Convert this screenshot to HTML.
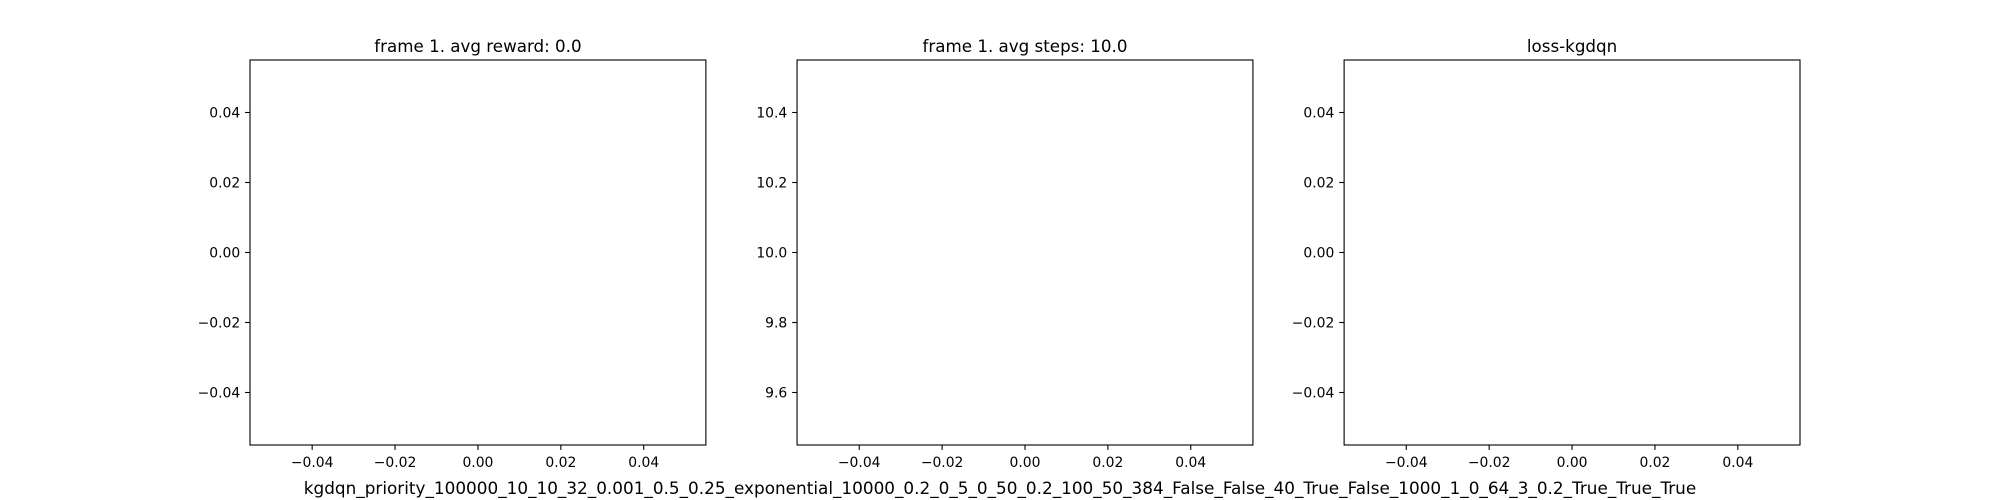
<!DOCTYPE html>
<html><head><meta charset="utf-8"><style>
html,body{margin:0;padding:0;background:#fff;}
svg{display:block;font-family:"DejaVu Sans","Liberation Sans",sans-serif;}
</style></head><body>
<svg id="fig" width="2000" height="500" viewBox="0 0 2000 500" xmlns="http://www.w3.org/2000/svg">
<rect width="2000" height="500" fill="#fff"/>
<text x="1000" y="494" text-anchor="middle" font-size="16.85" fill="#000">kgdqn_priority_100000_10_10_32_0.001_0.5_0.25_exponential_10000_0.2_0_5_0_50_0.2_100_50_384_False_False_40_True_False_1000_1_0_64_3_0.2_True_True_True</text>
</svg>
<script>
const panelTitles = ["frame 1. avg reward: 0.0", "frame 1. avg steps: 10.0", "loss-kgdqn"];
const panelNames = ["reward-panel", "steps-panel", "loss-panel"];
const yCenters = [0, 10, 0];
const yTicksRel = [-0.4, -0.2, 0.0, 0.2, 0.4];
const yTickLabels = [
  ["\u22120.04", "\u22120.02", "0.00", "0.02", "0.04"],
  ["9.6", "9.8", "10.0", "10.2", "10.4"],
  ["\u22120.04", "\u22120.02", "0.00", "0.02", "0.04"]
];
const yScaleFactor = [0.1, 1, 0.1];
const xTicks = [-0.04, -0.02, 0.0, 0.02, 0.04];
const xTickLabels = ["\u22120.04", "\u22120.02", "0.00", "0.02", "0.04"];

const svgEl = document.getElementById('fig');
const NS = 'http://www.w3.org/2000/svg';
const axW = 1550 / 3.4;
const axTop = 60, axBottom = 445;
function mk(tag, attrs, parent) {
  const e = document.createElementNS(NS, tag);
  for (const k in attrs) e.setAttribute(k, attrs[k]);
  parent.appendChild(e);
  return e;
}
for (let p = 0; p < 3; p++) {
  const left = 250 + p * axW * 1.2;
  const right = left + axW;
  const g = mk('g', {}, svgEl);
  
  
  const xScale = v => left + (v + 0.055) / 0.11 * axW;
  const half = 0.55 * yScaleFactor[p];
  const yScale = v => axTop + (yCenters[p] + half - v) / (2 * half) * (axBottom - axTop);
  const t = mk('text', {x: (left + right) / 2, y: 52, 'text-anchor': 'middle', 'font-size': 16.7, fill: '#000'}, g);
  
  
  t.textContent = panelTitles[p];
  xTicks.forEach((v, i) => {
    const x = xScale(v);
    const l = mk('line', {x1: x, x2: x, y1: axBottom, y2: axBottom + 4.9, stroke: '#000', 'stroke-width': 1.1}, g);
    
    
    const tx = mk('text', {x: x, y: axBottom + 22, 'text-anchor': 'middle', 'font-size': 13.9, fill: '#000'}, g);
    
    
    tx.textContent = xTickLabels[i];
  });
  yTicksRel.forEach((r, i) => {
    const v = yCenters[p] + r * yScaleFactor[p];
    const y = yScale(v);
    const l = mk('line', {x1: left - 4.9, x2: left, y1: y, y2: y, stroke: '#000', 'stroke-width': 1.1}, g);
    
    
    const ty = mk('text', {x: left - 9.8, y: y + 5, 'text-anchor': 'end', 'font-size': 13.9, fill: '#000'}, g);
    
    
    ty.textContent = yTickLabels[p][i];
  });
  const r = mk('rect', {x: left, y: axTop, width: axW, height: axBottom - axTop, fill: 'none', stroke: '#000', 'stroke-width': 1.1}, g);
  
  
}
</script>
</body></html>
